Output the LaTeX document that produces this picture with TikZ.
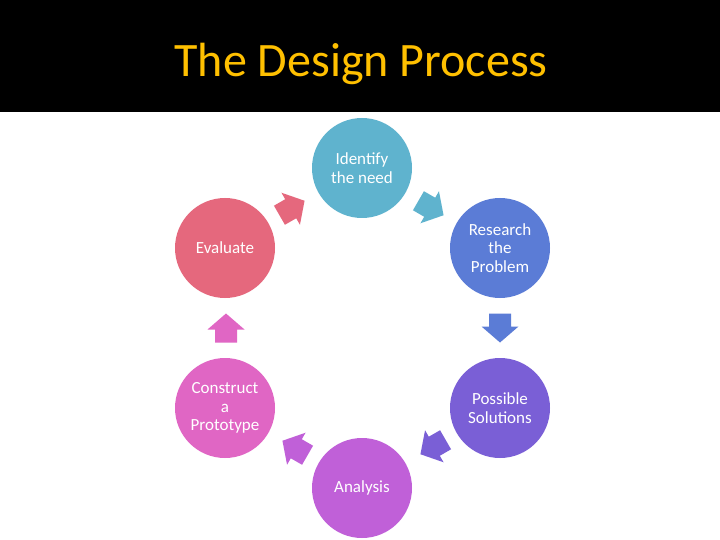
\documentclass[tikz,border=0pt]{standalone}
\usepackage{fontspec}
\setmainfont{Carlito}
\definecolor{cIdent}{RGB}{95,179,206}
\definecolor{cResearch}{RGB}{91,124,214}
\definecolor{cPossible}{RGB}{122,95,214}
\definecolor{cAnalysis}{RGB}{192,96,216}
\definecolor{cConstruct}{RGB}{224,102,196}
\definecolor{cEvaluate}{RGB}{229,104,125}
\definecolor{cTitle}{RGB}{255,192,0}
\tikzset{
  stepcircle/.style={circle, minimum size=100pt, inner sep=0pt, text=white,
    align=center, font=\fontsize{17}{18.5}\selectfont},
  blockarrow/.pic={
    \fill[pic actions] (-14.5,-11) -- (-1.5,-11) -- (-1.5,-18.5) -- (14.5,0)
      -- (-1.5,18.5) -- (-1.5,11) -- (-14.5,11) -- cycle;
  }
}
\begin{document}
\begin{tikzpicture}[x=1pt,y=-1pt]
\useasboundingbox (0,0) rectangle (720,540);
\fill[white] (0,0) rectangle (720,540);
\fill[black] (0,0) rectangle (720,112);
\node[text=cTitle, font=\fontsize{48}{50}\selectfont, anchor=base] (title) at (361,77) {The Design Process};

\node[stepcircle, fill=cIdent] (ident) at (362,168) {Identify\\the need};
\node[stepcircle, fill=cResearch] (research) at (500,248) {Research\\the\\Problem};
\node[stepcircle, fill=cPossible] (possible) at (500,408) {Possible\\Solutions};
\node[stepcircle, fill=cAnalysis] (analysis) at (362,488) {Analysis};
\node[stepcircle, fill=cConstruct] (construct) at (225,408) {Construct\\a\\Prototype};
\node[stepcircle, fill=cEvaluate] (evaluate) at (225,248) {Evaluate};

\pic[fill=cIdent, rotate=-30] (a1) at (431,208) {blockarrow};
\pic[fill=cResearch, rotate=-90] (a2) at (500,328) {blockarrow};
\pic[fill=cPossible, rotate=-150] (a3) at (433,447) {blockarrow};
\pic[fill=cAnalysis, rotate=150] (a4) at (295,448) {blockarrow};
\pic[fill=cConstruct, rotate=90] (a5) at (226,328) {blockarrow};
\pic[fill=cEvaluate, rotate=30] (a6) at (292,208) {blockarrow};
\end{tikzpicture}
\end{document}
